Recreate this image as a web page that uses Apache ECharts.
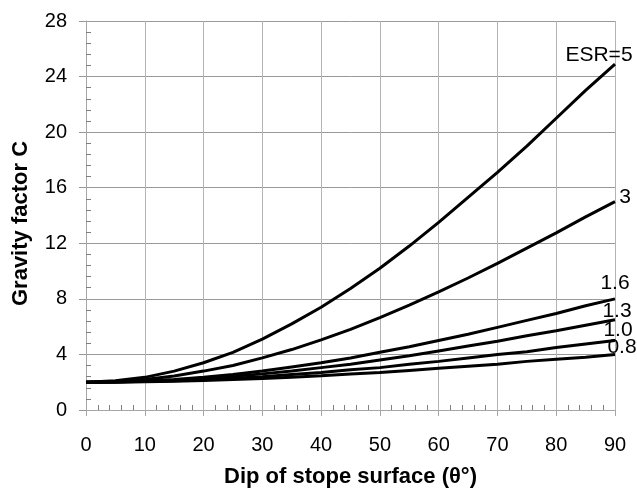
<!DOCTYPE html>
<html>
<head>
<meta charset="utf-8">
<script src="https://cdn.jsdelivr.net/npm/echarts@6/dist/echarts.min.js"></script>
<style>
html,body{margin:0;padding:0;background:#fff;}
#chart{width:637px;height:489px;}
</style>
</head>
<body>
<div id="chart"></div>
<script>
// ---- data ----
var dips = [0, 5, 10, 15, 20, 25, 30, 35, 40, 45, 50, 55, 60, 65, 70, 75, 80, 85, 90];
var seriesNames = ['ESR=5', '3', '1.6', '1.3', '1.0', '0.8'];
var esr5  = [2, 2.1, 2.35, 2.8, 3.4, 4.15, 5.1, 6.2, 7.4, 8.75, 10.2, 11.8, 13.5, 15.3, 17.1, 19.0, 21.0, 23.0, 24.9];
var esr3  = [2, 2.05, 2.2, 2.45, 2.8, 3.2, 3.75, 4.35, 5.05, 5.8, 6.65, 7.55, 8.5, 9.5, 10.55, 11.65, 12.75, 13.9, 15.0];
var esr16 = [2, 2.02, 2.1, 2.2, 2.35, 2.55, 2.8, 3.1, 3.4, 3.75, 4.15, 4.55, 5.0, 5.45, 5.95, 6.45, 6.95, 7.5, 8.0];
var esr13 = [2, 2.02, 2.07, 2.15, 2.27, 2.42, 2.6, 2.8, 3.05, 3.3, 3.6, 3.9, 4.25, 4.6, 4.95, 5.35, 5.7, 6.1, 6.5];
var esr10 = [2, 2.01, 2.05, 2.1, 2.18, 2.28, 2.4, 2.55, 2.7, 2.9, 3.05, 3.3, 3.5, 3.75, 4.0, 4.2, 4.5, 4.75, 5.0];
var esr08 = [2, 2.01, 2.03, 2.07, 2.12, 2.19, 2.27, 2.36, 2.47, 2.6, 2.7, 2.85, 3.0, 3.15, 3.3, 3.5, 3.65, 3.8, 4.0];
var xTitle = 'Dip of stope surface (\u03B8\u00B0)';
var yTitle = 'Gravity factor C';

// ---- styling ----
var FONT = "'Liberation Sans', Arial, sans-serif";
var labelOffsets = [[-16, -9], [10, -4], [0, -16], [2, -8], [3, -10], [7, -7]];
var allValues = [esr5, esr3, esr16, esr13, esr10, esr08];

var series = allValues.map(function (vals, si) {
  var data = vals.map(function (v, i) {
    var pt = { value: [dips[i], v] };
    if (i === vals.length - 1) {
      pt.label = {
        show: true,
        formatter: seriesNames[si],
        position: 'inside',
        align: 'center',
        verticalAlign: 'middle',
        offset: labelOffsets[si],
        fontSize: 21,
        color: '#000',
        fontFamily: FONT
      };
    }
    return pt;
  });
  return {
    name: seriesNames[si],
    type: 'line',
    data: data,
    symbol: 'circle',
    symbolSize: 0,
    showSymbol: true,
    smooth: false,
    lineStyle: { color: '#000', width: 3 },
    itemStyle: { color: '#000' },
    label: { show: false },
    emphasis: { disabled: true },
    z: 3
  };
});

var chart = echarts.init(document.getElementById('chart'), null, { renderer: 'canvas' });
chart.setOption({
  animation: false,
  backgroundColor: '#fff',
  grid: { left: 86, right: 22, top: 21, bottom: 79, containLabel: false, outerBoundsMode: 'none' },
  xAxis: {
    type: 'value', min: 0, max: 90, interval: 10,
    name: xTitle, nameLocation: 'middle', nameGap: 56,
    nameTextStyle: { fontSize: 22, fontWeight: 'bold', color: '#000', fontFamily: FONT },
    axisLine: { show: true, onZero: false, lineStyle: { color: '#a6a6a6', width: 1 } },
    axisTick: { show: true, length: 6, lineStyle: { color: '#a6a6a6' } },
    minorTick: { show: true, splitNumber: 5, length: -5, lineStyle: { color: '#808080' } },
    splitLine: { show: true, lineStyle: { color: '#b4b4b4', width: 1 } },
    axisLabel: { fontSize: 20, color: '#000', margin: 25, fontFamily: FONT }
  },
  yAxis: {
    type: 'value', min: 0, max: 28, interval: 4,
    name: yTitle, nameLocation: 'middle', nameGap: 54,
    nameTextStyle: { fontSize: 22, fontWeight: 'bold', color: '#000', fontFamily: FONT, padding: [0, 16, 0, 0] },
    axisLine: { show: true, lineStyle: { color: '#a6a6a6', width: 1 } },
    axisTick: { show: true, length: 7, lineStyle: { color: '#999' } },
    minorTick: { show: true, splitNumber: 5, length: -5, lineStyle: { color: '#808080' } },
    splitLine: { show: true, lineStyle: { color: '#999', width: 1 } },
    axisLabel: { fontSize: 20, color: '#000', margin: 19, fontFamily: FONT }
  },
  series: series
});
</script>
</body>
</html>
